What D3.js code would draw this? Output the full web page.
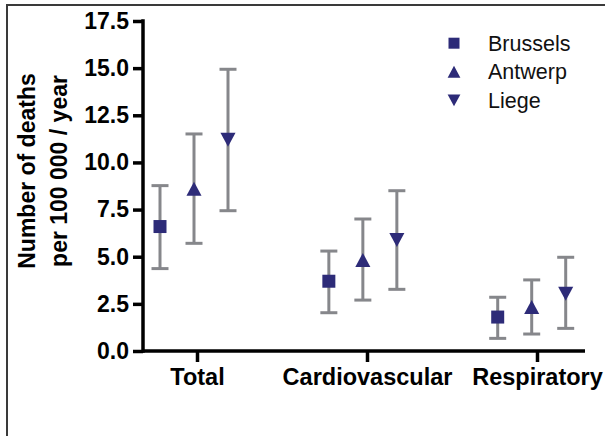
<!DOCTYPE html>
<html>
<head>
<meta charset="utf-8">
<script src="https://cdn.jsdelivr.net/npm/d3@7"></script>
<style>
  html, body { margin: 0; padding: 0; background: #fff; }
  svg { display: block; }
</style>
</head>
<body>
<svg id="chart" width="605" height="436"></svg>
<script>
// ---- data ----
const categories = ["Total", "Cardiovascular", "Respiratory"];
const series = ["Brussels", "Antwerp", "Liege"];
const symbols = ["square", "triangleUp", "triangleDown"];
const brusselsMean = [6.6, 3.7, 1.8];
const brusselsLow  = [4.37, 2.03, 0.67];
const brusselsHigh = [8.77, 5.3, 2.85];
const antwerpMean  = [8.6, 4.83, 2.33];
const antwerpLow   = [5.71, 2.7, 0.9];
const antwerpHigh  = [11.51, 7.0, 3.77];
const liegeMean    = [11.2, 5.89, 3.04];
const liegeLow     = [7.44, 3.27, 1.2];
const liegeHigh    = [14.94, 8.5, 4.97];
const yTicks = [0, 2.5, 5, 7.5, 10, 12.5, 15, 17.5];

const means = [brusselsMean, antwerpMean, liegeMean];
const lows = [brusselsLow, antwerpLow, liegeLow];
const highs = [brusselsHigh, antwerpHigh, liegeHigh];

const svg = d3.select("#chart");
const markerColor = "#2d2b78";
const errColor = "#86878b";
const axisW = 3.5;
const fontFam = "'Liberation Sans', Arial, Helvetica, sans-serif";

// frame
svg.append("path").attr("d", "M7,436 V5 H605")
  .attr("fill", "none").attr("stroke", "#3a3a3a").attr("stroke-width", 2);

// scales
const y = d3.scaleLinear().domain([0, 17.5]).range([351, 21]);
const xTick = d3.scalePoint().domain(categories).range([197, 537]);
const xGroup = d3.scalePoint().domain(categories).range([194, 531.7]);
const xDodge = d3.scalePoint().domain(series).range([-34, 34]);
const axisLeftX = 143, axisRightX = 585, axisY = y(0);

// y axis
const gy = svg.append("g").attr("transform", `translate(${axisLeftX},0)`)
  .call(d3.axisLeft(y).tickValues(yTicks).tickFormat(d3.format(".1f"))
    .tickSize(10).tickPadding(4));
gy.select(".domain").remove();
gy.selectAll(".tick line").attr("stroke", "#000").attr("stroke-width", axisW);
gy.selectAll(".tick text").attr("fill", "#000")
  .style("font-family", fontFam)
  .style("font-weight", "bold").style("font-size", "23px");
svg.append("line").attr("x1", axisLeftX).attr("x2", axisLeftX)
  .attr("y1", y(17.5) - axisW / 2).attr("y2", axisY + axisW / 2)
  .attr("stroke", "#000").attr("stroke-width", axisW);

// x axis
const gx = svg.append("g").attr("transform", `translate(0,${axisY})`)
  .call(d3.axisBottom(xTick).tickSize(11).tickPadding(6));
gx.select(".domain").remove();
gx.selectAll(".tick line").attr("stroke", "#000").attr("stroke-width", axisW);
gx.selectAll(".tick text").attr("fill", "#000")
  .style("font-family", fontFam)
  .style("font-weight", "bold").style("font-size", "23.5px");
svg.append("line").attr("x1", axisLeftX).attr("x2", axisRightX)
  .attr("y1", axisY).attr("y2", axisY)
  .attr("stroke", "#000").attr("stroke-width", axisW);

// y label
const yl = svg.append("text")
  .attr("transform", "translate(35,171) rotate(-90)")
  .attr("text-anchor", "middle")
  .style("font-family", fontFam)
  .style("font-weight", "bold").style("font-size", "23px").attr("fill", "#000");
yl.append("tspan").attr("x", 0).attr("y", 0).text("Number of deaths");
yl.append("tspan").attr("x", 0).attr("y", 32).text("per 100 000 / year");

// marker shapes
function shapePath(kind, s) {
  if (kind === "square") { const h = s / 2; return `M${-h},${-h}H${h}V${h}H${-h}Z`; }
  const w = s * 0.58, hh = s * 0.54;
  if (kind === "triangleUp") return `M0,${-hh}L${w},${hh}L${-w},${hh}Z`;
  return `M0,${hh}L${w},${-hh}L${-w},${-hh}Z`;
}

// points with error bars
const points = [];
series.forEach((s, si) => categories.forEach((c, ci) => {
  points.push({ s, si, c, mean: means[si][ci], low: lows[si][ci], high: highs[si][ci] });
}));
const capW = 17;
const g = svg.append("g");
points.forEach(p => {
  const cx = xGroup(p.c) + xDodge(p.s);
  const gg = g.append("g");
  gg.append("line").attr("x1", cx).attr("x2", cx).attr("y1", y(p.high)).attr("y2", y(p.low))
    .attr("stroke", errColor).attr("stroke-width", 3);
  [p.high, p.low].forEach(v => gg.append("line")
    .attr("x1", cx - capW / 2).attr("x2", cx + capW / 2).attr("y1", y(v)).attr("y2", y(v))
    .attr("stroke", errColor).attr("stroke-width", 3));
  gg.append("path").attr("d", shapePath(symbols[p.si], 13))
    .attr("transform", `translate(${cx},${y(p.mean)})`).attr("fill", markerColor);
});

// legend
const lg = svg.append("g");
series.forEach((s, i) => {
  const base = 50.7 + i * 28.6;
  lg.append("path").attr("d", shapePath(symbols[i], 11))
    .attr("transform", `translate(454,${base - 7.5})`).attr("fill", markerColor);
  lg.append("text").attr("x", 488).attr("y", base).text(s)
    .style("font-family", fontFam)
    .style("font-size", "21.5px").attr("fill", "#111");
});
</script>
</body>
</html>
